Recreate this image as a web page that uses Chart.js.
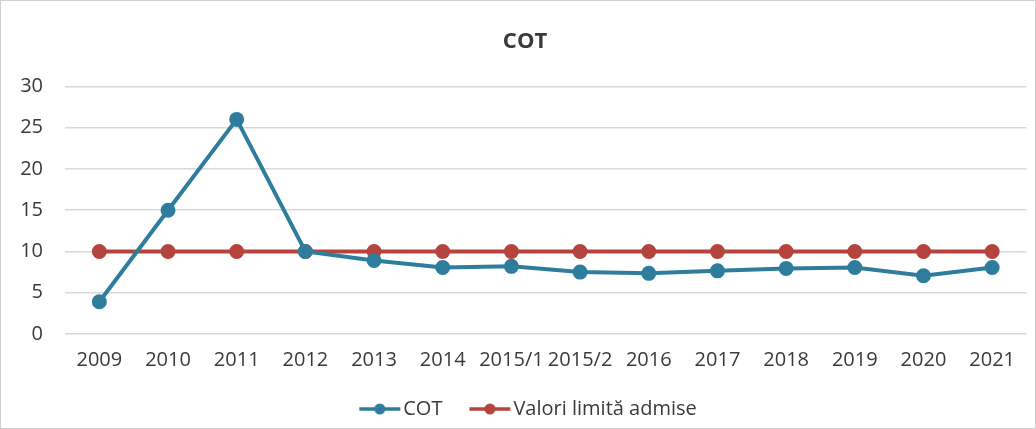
<!DOCTYPE html>
<html>
<head>
<meta charset="utf-8">
<style>
  html, body { margin: 0; padding: 0; background: #fff; }
  #wrap { width: 1036px; height: 429px; position: relative; }
</style>
<script src="https://cdn.jsdelivr.net/npm/chart.js"></script>
</head>
<body>
<div id="wrap"><canvas id="chart"></canvas></div>
<script>
const years = ['2009', '2010', '2011', '2012', '2013', '2014', '2015/1', '2015/2', '2016', '2017', '2018', '2019', '2020', '2021'];
const cotValues = [3.9, 15, 26, 10, 8.9, 8.05, 8.2, 7.5, 7.35, 7.65, 7.95, 8.05, 7.05, 8.05];
const limitValues = [10, 10, 10, 10, 10, 10, 10, 10, 10, 10, 10, 10, 10, 10];
const yTicks = [0, 5, 10, 15, 20, 25, 30];

const blue = '#2e7d9c';
const red = '#b5443f';
const textColor = '#3a3a3a';
const font = '"Open Sans", sans-serif';

// legend icon: line with a dot, left margin blank so the text sits close
function legendIcon(color) {
    const c = document.createElement('canvas');
    c.width = 56;
    c.height = 14;
    const ctx = c.getContext('2d');
    ctx.strokeStyle = color;
    ctx.lineWidth = 3.5;
    ctx.beginPath();
    ctx.moveTo(14, 7);
    ctx.lineTo(55, 7);
    ctx.stroke();
    ctx.fillStyle = color;
    ctx.beginPath();
    ctx.arc(34.5, 7, 5.5, 0, Math.PI * 2);
    ctx.fill();
    return c;
}

const frame = {
    id: 'frame',
    afterDraw(chart) {
        const ctx = chart.ctx;
        ctx.save();
        ctx.strokeStyle = '#d0d0d0';
        ctx.lineWidth = 1;
        ctx.strokeRect(0.5, 0.5, chart.width - 1, chart.height - 1);
        ctx.restore();
    }
};

function drawChart() {
    const context = document.getElementById('chart');
    const icons = [legendIcon(blue), legendIcon(red)];

    new Chart(context, {
        type: 'line',
        data: {
            labels: years,
            datasets: [{
                label: 'COT',
                data: cotValues,
                borderColor: blue,
                backgroundColor: blue,
                borderWidth: 4,
                pointRadius: 5.5,
                pointHoverRadius: 5.5,
                tension: 0
            }, {
                label: 'Valori limită admise',
                data: limitValues,
                borderColor: red,
                backgroundColor: red,
                borderWidth: 4,
                pointRadius: 5.5,
                pointHoverRadius: 5.5,
                tension: 0
            }]
        },
        options: {
            responsive: true,
            maintainAspectRatio: false,
            animation: false,
            layout: {
                padding: { left: 20, right: 6, top: 0, bottom: 0 }
            },
            plugins: {
                title: {
                    display: true,
                    text: 'COT',
                    color: textColor,
                    font: { family: font, size: 22, weight: 'bold' },
                    padding: { top: 29, bottom: 31 }
                },
                legend: {
                    position: 'bottom',
                    maxHeight: 53,
                    labels: {
                        color: textColor,
                        font: { family: font, size: 20 },
                        usePointStyle: true,
                        pointStyleWidth: 40,
                        boxHeight: 14,
                        padding: 21,
                        generateLabels(chart) {
                            return chart.data.datasets.map((ds, i) => ({
                                text: ds.label,
                                pointStyle: icons[i],
                                fillStyle: ds.borderColor,
                                strokeStyle: ds.borderColor,
                                fontColor: textColor,
                                lineWidth: 0,
                                datasetIndex: i,
                                hidden: false
                            }));
                        }
                    }
                },
                tooltip: { enabled: false }
            },
            scales: {
                x: {
                    offset: true,
                    grid: { display: false, drawTicks: false },
                    border: { display: false },
                    afterFit(axis) {
                        axis.height = 44;
                    },
                    ticks: {
                        color: textColor,
                        font: { family: font, size: 20 },
                        maxRotation: 0,
                        autoSkip: false,
                        padding: 14
                    }
                },
                y: {
                    min: 0,
                    max: 30,
                    afterBuildTicks(axis) {
                        axis.ticks = yTicks.map(v => ({ value: v }));
                    },
                    afterFit(axis) {
                        axis.width = 45;
                    },
                    grid: { color: '#d9d9d9', lineWidth: 1.5, drawTicks: false },
                    border: { display: false },
                    ticks: {
                        color: textColor,
                        font: { family: font, size: 20 },
                        padding: 22
                    }
                }
            }
        },
        plugins: [frame]
    });
}

drawChart();
</script>
</body>
</html>
